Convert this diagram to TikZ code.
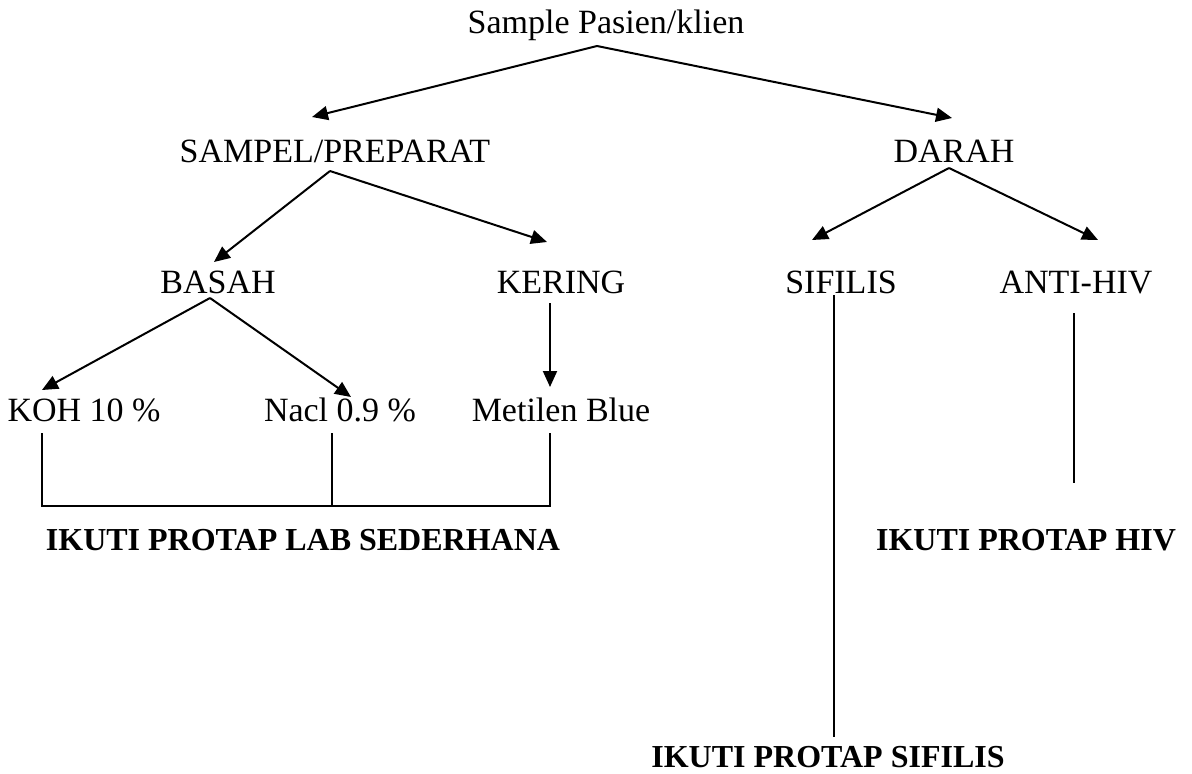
\documentclass[tikz,border=0pt]{standalone}
\usepackage{fontspec}
\setmainfont{Liberation Serif}
\usetikzlibrary{arrows.meta}
\begin{document}
\begin{tikzpicture}[x=1pt,y=-1pt,
  lbl/.style={inner sep=0pt, anchor=base, font=\fontsize{34}{40}\selectfont},
  res/.style={inner sep=0pt, anchor=base, font=\fontsize{32}{38}\selectfont\bfseries},
  arr/.style={line width=2pt, -{Triangle[length=16pt,width=14pt]}},
  link/.style={line width=1.6pt},
  thinlink/.style={line width=1.2pt},
  thicklink/.style={line width=2.6pt}]
\useasboundingbox (0,0) rectangle (1192,774);

% labels
\node[lbl] (top)     at (606,33)  {Sample Pasien/klien};
\node[lbl] (sampel)  at (335,162) {SAMPEL/PREPARAT};
\node[lbl] (darah)   at (954,162) {DARAH};
\node[lbl] (basah)   at (218,293) {BASAH};
\node[lbl] (kering)  at (561,293) {KERING};
\node[lbl] (sifilis) at (841,293) {SIFILIS};
\node[lbl] (antihiv) at (1076,293) {ANTI-HIV};
\node[lbl] (koh)     at (84,421)  {KOH 10 \%};
\node[lbl] (nacl)    at (340,421) {Nacl 0.9 \%};
\node[lbl] (metilen) at (561,421) {Metilen Blue};
\node[res] (lab)     at (303,550) {IKUTI PROTAP LAB SEDERHANA};
\node[res] (hiv)     at (1026,550) {IKUTI PROTAP HIV};
\node[res] (sif)     at (828,767) {IKUTI PROTAP SIFILIS};

% branch points and arrow ends
\coordinate (topApex)    at (597,46);
\coordinate (sampelIn)   at (312,117);
\coordinate (darahIn)    at (952,118);
\coordinate (sampelApex) at (330,171);
\coordinate (basahIn)    at (214,262);
\coordinate (keringIn)   at (547,242);
\coordinate (darahApex)  at (949,168);
\coordinate (sifilisIn)  at (812,240);
\coordinate (antihivIn)  at (1098,240);
\coordinate (basahApex)  at (210,298);
\coordinate (kohIn)      at (42,390);
\coordinate (naclIn)     at (351,397);
\coordinate (keringOut)  at (550,303);
\coordinate (metilenIn)  at (550,387);

% bracket under the three stains
\coordinate (kohOut)     at (42,433);
\coordinate (naclOut)    at (332,433);
\coordinate (metilenOut) at (550,433);
\coordinate (kohCorner)  at (42,506);
\coordinate (naclJoin)   at (332,506);
\coordinate (metCorner)  at (550,506);

% blood branches
\coordinate (sifTop)  at (834,295);
\coordinate (sifA)    at (834,423);
\coordinate (sifB)    at (834,700);
\coordinate (sifEnd)  at (834,737);
\coordinate (hivTop)  at (1074,313);
\coordinate (hivEnd)  at (1074,483);

% arrows
\draw[arr] (topApex) -- (sampelIn);
\draw[arr] (topApex) -- (darahIn);
\draw[arr] (sampelApex) -- (basahIn);
\draw[arr] (sampelApex) -- (keringIn);
\draw[arr] (darahApex) -- (sifilisIn);
\draw[arr] (darahApex) -- (antihivIn);
\draw[arr] (basahApex) -- (kohIn);
\draw[arr] (basahApex) -- (naclIn);
\draw[arr] (keringOut) -- (metilenIn);

% plain lines
\draw[link] (kohOut) -- (kohCorner) -- (metCorner) -- (metilenOut);
\draw[link] (naclOut) -- (naclJoin);
\draw[thinlink] (sifTop) -- (sifA);
\draw[thicklink] (sifA) -- (sifB);
\draw[thinlink] (sifB) -- (sifEnd);
\draw[line width=1.5pt] (hivTop) -- (hivEnd);
\end{tikzpicture}
\end{document}
